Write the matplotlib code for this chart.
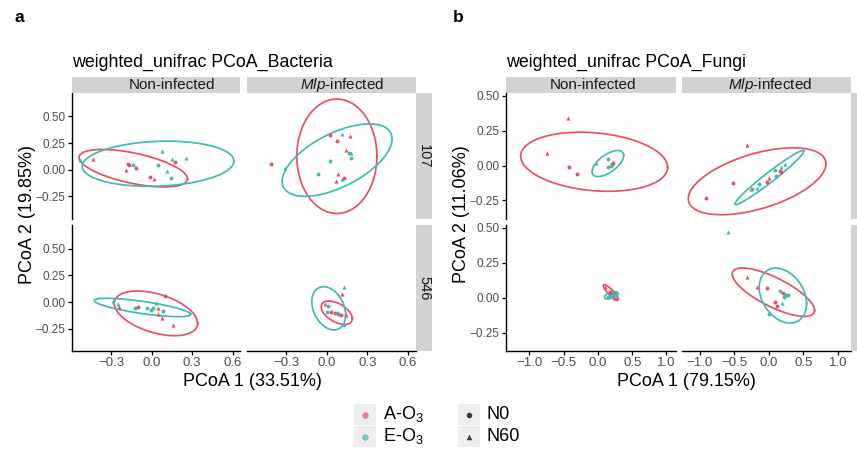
import numpy as np
import pandas as pd
import matplotlib
matplotlib.use('Agg')
import matplotlib.pyplot as plt
from matplotlib.patches import Rectangle

plt.rcParams['font.family'] = ['Liberation Sans', 'DejaVu Sans']
plt.rcParams['mathtext.fontset'] = 'custom'
plt.rcParams['mathtext.rm'] = 'Liberation Sans'
plt.rcParams['mathtext.it'] = 'Liberation Sans:italic'

# ---- data ----
infections = ['Non-infected', 'Mlp-infected']
days = ['107', '546']
groups = ['A', 'E']
nitrogen = ['N0', 'N60']

# bacteria points (long form)
bac_x = [-0.433, -0.173, -0.170, -0.136, -0.114, -0.190, -0.013, 0.017, 0.044, 0.079, 0.150, 0.173, 0.252, 0.111, 0.141, -0.530,
         -0.412, -0.308, 0.020, 0.109, 0.170, 0.077, 0.144, 0.163, 0.175, 0.181, 0.020, -0.069, 0.084, 0.124, 0.111, 0.064,
         -0.284, -0.247, -0.240, -0.099, -0.124, -0.037, -0.007, 0.007, 0.032, 0.049, 0.051, 0.099, 0.081, 0.074, 0.160,
         0.126, 0.111, 0.007, 0.000, 0.032, 0.057, 0.082, 0.101, 0.074, -0.010, 0.139, 0.126]
bac_y = [0.099, 0.056, 0.045, 0.047, 0.015, -0.007, -0.069, -0.088, 0.047, 0.180, 0.103, 0.071, 0.106, -0.009, -0.078, 0.087,
         0.056, 0.019, 0.323, 0.336, 0.314, 0.274, 0.187, 0.155, 0.158, 0.106, 0.080, -0.041, -0.044, -0.078, -0.084, -0.106,
         0.009, -0.022, -0.044, -0.044, -0.053, -0.053, -0.075, -0.060, -0.012, -0.053, -0.112, 0.059, -0.084, -0.153, -0.215,
         0.137, 0.075, -0.034, -0.097, -0.090, -0.106, -0.115, -0.121, -0.100, -0.022, -0.121, -0.215]
bac_o3 = ['A', 'A', 'A', 'E', 'A', 'A', 'A', 'A', 'E', 'E', 'E', 'A', 'E', 'E', 'E', 'E',
          'A', 'E', 'A', 'E', 'A', 'A', 'A', 'E', 'E', 'E', 'E', 'E', 'A', 'A', 'E', 'A',
          'E', 'E', 'A', 'A', 'E', 'E', 'E', 'E', 'E', 'A', 'A', 'A', 'E', 'A', 'A',
          'E', 'A', 'E', 'E', 'A', 'A', 'A', 'A', 'E', 'A', 'A', 'E']
bac_n = ['N60', 'N0', 'N0', 'N0', 'N0', 'N60', 'N0', 'N60', 'N0', 'N60', 'N60', 'N0', 'N60', 'N60', 'N0', 'N60',
         'N0', 'N60', 'N0', 'N60', 'N60', 'N0', 'N60', 'N0', 'N60', 'N0', 'N0', 'N0', 'N60', 'N0', 'N60', 'N60',
         'N60', 'N60', 'N60', 'N0', 'N0', 'N0', 'N0', 'N0', 'N60', 'N60', 'N60', 'N0', 'N0', 'N60', 'N60',
         'N60', 'N60', 'N0', 'N0', 'N0', 'N0', 'N0', 'N0', 'N0', 'N60', 'N60', 'N0']
bac_inf = [0] * 16 + [1] * 16 + [0] * 15 + [1] * 12
bac_day = ['107'] * 32 + ['546'] * 27

# fungi points (long form)
fun_x = [-0.433, -0.749, -0.428, -0.311, 0.141, 0.151, 0.209, 0.190, -0.030, 0.220,
         -0.323, -0.517, -0.917, -0.261, -0.250, -0.169, -0.140, 0.000, -0.034, 0.101, 0.092, 0.159, 0.174, 0.232, 0.174,
         0.10, 0.17, 0.20, 0.24, 0.26, 0.14, 0.20, 0.24, 0.27, 0.22,
         -0.599, -0.323, -0.169, -0.024, 0.159, 0.208, 0.230, 0.254, 0.278, 0.217, 0.092, 0.111, 0.184, 0.005]
fun_y = [0.340, 0.089, -0.010, -0.062, 0.048, -0.012, 0.012, -0.005, 0.017, 0.020,
         0.144, -0.122, -0.230, -0.170, -0.165, -0.161, -0.132, -0.091, -0.120, -0.074, -0.029, -0.036, -0.045, 0.012, -0.012,
         0.08, 0.04, 0.03, 0.00, -0.01, 0.005, 0.02, 0.025, 0.03, 0.015,
         0.472, 0.151, 0.075, 0.068, 0.050, 0.035, 0.020, 0.018, 0.018, 0.009, -0.033, -0.062, -0.035, -0.114]
fun_o3 = ['A', 'A', 'A', 'A', 'E', 'E', 'A', 'E', 'E', 'A',
          'A', 'A', 'A', 'A', 'E', 'E', 'E', 'A', 'A', 'E', 'E', 'A', 'A', 'E', 'E',
          'A', 'A', 'A', 'A', 'A', 'E', 'E', 'E', 'E', 'E',
          'E', 'A', 'A', 'A', 'E', 'A', 'E', 'E', 'E', 'E', 'A', 'A', 'E', 'E']
fun_n = ['N60', 'N60', 'N0', 'N0', 'N0', 'N0', 'N0', 'N0', 'N60', 'N0',
         'N60', 'N0', 'N0', 'N60', 'N0', 'N60', 'N0', 'N60', 'N0', 'N0', 'N0', 'N0', 'N0', 'N60', 'N60',
         'N60', 'N0', 'N0', 'N60', 'N0', 'N0', 'N0', 'N60', 'N0', 'N0',
         'N60', 'N60', 'N60', 'N0', 'N0', 'N0', 'N0', 'N0', 'N0', 'N0', 'N0', 'N0', 'N60', 'N0']
fun_inf = [0] * 10 + [1] * 15 + [0] * 10 + [1] * 14
fun_day = ['107'] * 25 + ['546'] * 24

# ellipses: centre, half width, half height, y offset of the rightmost point
ell_day = ['107', '107', '107', '107', '546', '546', '546', '546']
ell_inf = [0, 0, 1, 1, 0, 0, 1, 1]
ell_o3 = ['A', 'E', 'A', 'E', 'A', 'E', 'A', 'E']
bac_ell_cx = [-0.136, 0.048, 0.074, 0.076, 0.032, -0.068, 0.073, 0.014]
bac_ell_cy = [0.014, 0.056, 0.126, 0.090, -0.106, -0.051, -0.100, -0.059]
bac_ell_hx = [0.402, 0.562, 0.296, 0.406, 0.309, 0.357, 0.115, 0.125]
bac_ell_hy = [0.176, 0.212, 0.537, 0.340, 0.209, 0.086, 0.109, 0.202]
bac_ell_yr = [-0.100, 0.025, 0.0, 0.199, -0.093, -0.064, -0.055, -0.062]
fun_ell_cx = [-0.056, 0.144, -0.171, 0.007, 0.187, 0.190, 0.065, 0.203]
fun_ell_cy = [0.027, 0.014, -0.113, -0.086, 0.039, 0.018, 0.040, 0.016]
fun_ell_hx = [1.073, 0.231, 0.998, 0.500, 0.110, 0.097, 0.597, 0.343]
fun_ell_hy = [0.212, 0.0935, 0.240, 0.194, 0.055, 0.026, 0.173, 0.196]
fun_ell_yr = [-0.040, 0.058, 0.125, 0.189, -0.048, 0.014, -0.130, -0.059]

yticks = [-0.25, 0.0, 0.25, 0.5]
ytick_labels = ['\u22120.25', '0.00', '0.25', '0.50']
bac_xticks = [-0.3, 0.0, 0.3, 0.6]
bac_xtick_labels = ['\u22120.3', '0.0', '0.3', '0.6']
fun_xticks = [-1.0, -0.5, 0.0, 0.5, 1.0]
fun_xtick_labels = ['\u22121.0', '\u22120.5', '0.0', '0.5', '1.0']

colors = {'A': '#EE4E64', 'E': '#3CBDB2'}
markers = {'N0': 'o', 'N60': '^'}
msize = {'N0': 8, 'N60': 9}

bac = pd.DataFrame({'x': bac_x, 'y': bac_y, 'o3': bac_o3, 'n': bac_n, 'inf': bac_inf, 'day': bac_day})
fun = pd.DataFrame({'x': fun_x, 'y': fun_y, 'o3': fun_o3, 'n': fun_n, 'inf': fun_inf, 'day': fun_day})
bac_ell = pd.DataFrame({'day': ell_day, 'inf': ell_inf, 'o3': ell_o3, 'cx': bac_ell_cx, 'cy': bac_ell_cy,
                        'hx': bac_ell_hx, 'hy': bac_ell_hy, 'yr': bac_ell_yr})
fun_ell = pd.DataFrame({'day': ell_day, 'inf': ell_inf, 'o3': ell_o3, 'cx': fun_ell_cx, 'cy': fun_ell_cy,
                        'hx': fun_ell_hx, 'hy': fun_ell_hy, 'yr': fun_ell_yr})

W, H = 857, 451
fig = plt.figure(figsize=(W / 100, H / 100), dpi=100)


def fbox(x0, y0, x1, y1):
    return [x0 / W, 1 - y1 / H, (x1 - x0) / W, (y1 - y0) / H]


def ftext(x, y, s, **kw):
    fig.text(x / W, 1 - y / H, s, **kw)


def frect(x0, y0, x1, y1, color):
    fig.add_artist(Rectangle((x0 / W, 1 - y1 / H), (x1 - x0) / W, (y1 - y0) / H,
                             transform=fig.transFigure, facecolor=color, edgecolor='none'))


rows = [(93, 218.5), (225, 351)]
strip_grey = '#D3D3D3'
tick_grey = '#4D4D4D'
t = np.linspace(0, 2 * np.pi, 300)


def draw_panel(df, ell, cols, strip_mid, xlims, ylim, xticks, xtick_labels, title, xtitle, ytitle,
               letter, letter_x, ytitle_x):
    for r, day in enumerate(days):
        for c in range(2):
            x0, x1 = cols[c]
            y0, y1 = rows[r]
            ax = fig.add_axes(fbox(x0, y0, x1, y1))
            ax.set_xlim(xlims[c])
            ax.set_ylim(ylim)
            sub = df[(df.day == day) & (df.inf == c)]
            for g in groups:
                for n in nitrogen:
                    s = sub[(sub.o3 == g) & (sub.n == n)]
                    ax.scatter(s.x, s.y, marker=markers[n], s=msize[n], color=colors[g], linewidths=0, zorder=3)
            e = ell[(ell.day == day) & (ell.inf == c)]
            for _, row in e.iterrows():
                ex = row.cx + row.hx * np.cos(t)
                ey = row.cy + row.yr * np.cos(t) + np.sqrt(row.hy ** 2 - row.yr ** 2) * np.sin(t)
                ax.plot(ex, ey, color=colors[row.o3], lw=1.25, zorder=2)
            for side in ['top', 'right']:
                ax.spines[side].set_visible(False)
            ax.spines['left'].set_visible(c == 0)
            ax.spines['bottom'].set_visible(r == 1)
            for side in ['left', 'bottom']:
                ax.spines[side].set_linewidth(1.0)
            ax.set_yticks(yticks)
            ax.set_xticks(xticks)
            if c == 0:
                ax.set_yticklabels(ytick_labels)
                ax.tick_params(axis='y', length=3, width=0.9, pad=1.5, labelsize=8.5, labelcolor=tick_grey)
            else:
                ax.tick_params(axis='y', left=False, labelleft=False)
            if r == 1:
                ax.set_xticklabels(xtick_labels)
                ax.tick_params(axis='x', length=3, width=0.9, pad=1.5, labelsize=9.5, labelcolor=tick_grey)
            else:
                ax.tick_params(axis='x', bottom=False, labelbottom=False)
            ax.patch.set_alpha(0)
            # strips
            if r == 0:
                frect(x0, 77, x1, 93, strip_grey)
                lab = 'Non-infected' if c == 0 else '$\\it{Mlp}$-infected'
                ftext(strip_mid[c], 85, lab, ha='center', va='center', fontsize=11, color='#1A1A1A')
            if c == 1:
                frect(x1, y0, x1 + 16.5, y1, strip_grey)
                ftext(x1 + 8.5, (y0 + y1) / 2, day, ha='center', va='center', rotation=270,
                      fontsize=10.5, color='#1A1A1A')
    ftext(cols[0][0], 62, title, ha='left', va='center', fontsize=12.8)
    ftext((cols[0][0] + cols[1][1] + 16.5) / 2, 381, xtitle, ha='center', va='center', fontsize=13)
    ftext(ytitle_x, 214, ytitle, ha='center', va='center', rotation=90, fontsize=13)
    ftext(letter_x, 18, letter, ha='center', va='center', fontsize=12.5, fontweight='bold')


draw_panel(bac, bac_ell, [(72, 240), (247, 415.5)], [172, 342], [(-0.59, 0.655), (-0.59, 0.655)], (-0.458, 0.72),
           bac_xticks, bac_xtick_labels, 'weighted_unifrac PCoA_Bacteria', 'PCoA 1 (33.51%)', 'PCoA 2 (19.85%)',
           'a', 19, 27)
draw_panel(fun, fun_ell, [(506, 676), (682, 851)], [593, 770], [(-1.343, 1.139), (-1.26, 1.19)], (-0.38, 0.52),
           fun_xticks, fun_xtick_labels, 'weighted_unifrac PCoA_Fungi', 'PCoA 1 (79.15%)', 'PCoA 2 (11.06%)',
           'b', 458, 462)

# legend
lg = fig.add_axes([0, 0, 1, 1])
lg.set_xlim(0, W)
lg.set_ylim(H, 0)
lg.axis('off')
lg.patch.set_alpha(0)
key_bg = '#EEEEEE'
for i, g in enumerate(groups):
    yk = 404 + i * 22
    lg.add_patch(Rectangle((354, yk), 22, 21, facecolor=key_bg, edgecolor='none'))
    lg.scatter([365], [yk + 10.5], s=22, color=colors[g], alpha=0.7, linewidths=0)
    lg.text(383, yk + 10.5, g + '-O$_3$', ha='left', va='center', fontsize=13)
for i, n in enumerate(nitrogen):
    yk = 404 + i * 22
    lg.add_patch(Rectangle((458, yk), 22, 21, facecolor=key_bg, edgecolor='none'))
    lg.scatter([469], [yk + 10.5], s=16, marker=markers[n], color='#3a3a3a', linewidths=0)
    lg.text(487, yk + 10.5, n, ha='left', va='center', fontsize=13)

fig.savefig('out.png', dpi=100)
